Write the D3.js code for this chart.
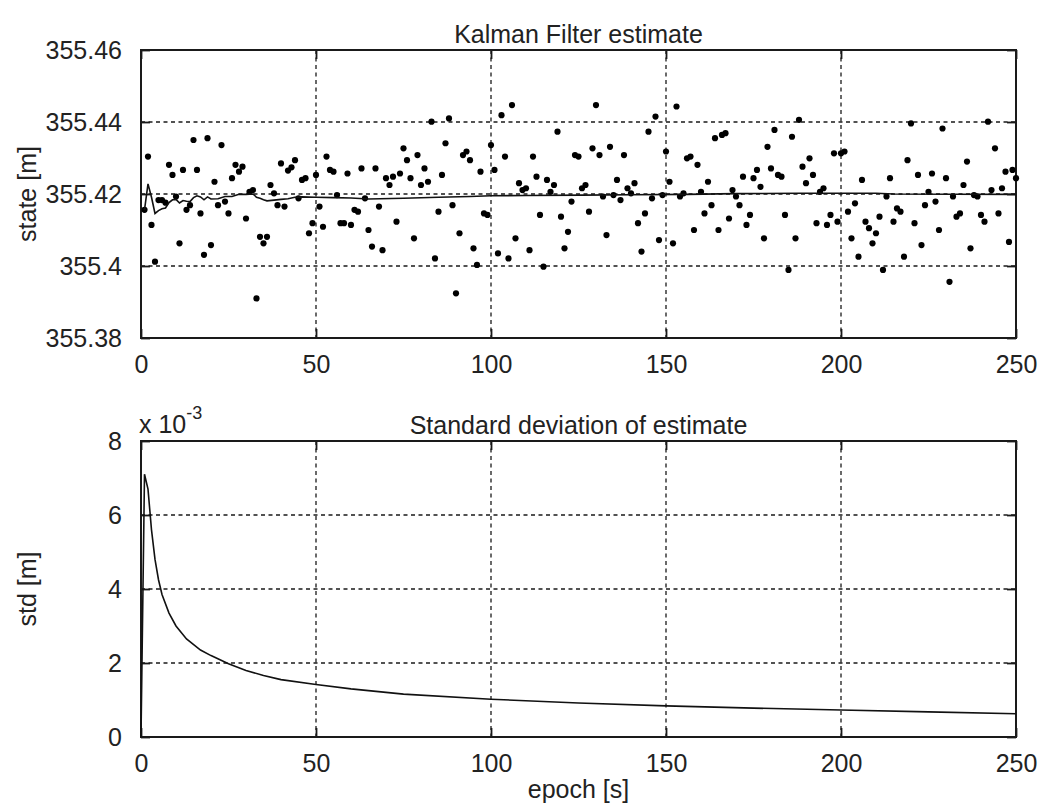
<!DOCTYPE html>
<html lang="en">
<script src="https://d3js.org/d3.v7.min.js"></script>
<style>
    body {margin: 0; background: white;}
    svg {font-family: "Liberation Sans", Arial, sans-serif; font-size: 25px;}
    .frame {fill: none; stroke: #1a1a1a; stroke-width: 2;}
    .grid line {stroke: #1a1a1a; stroke-width: 1.3; stroke-dasharray: 4,3.5;}
    .tick line {stroke: #1a1a1a; stroke-width: 1.8;}
    text {fill: #222;}
</style>
<body>
    <svg width="1041" height="809"></svg>
</body>
<script>
    // observations, epoch 1..250
    var obsValue = [
        355.4156, 355.4304, 355.4114, 355.4012, 355.4183, 355.4183, 355.4176, 355.4281, 355.4253, 355.4193,
        355.4063, 355.4267, 355.4156, 355.4169, 355.4350, 355.4267, 355.4146, 355.4031, 355.4355, 355.4058,
        355.4234, 355.4169, 355.4336, 355.4179, 355.4146, 355.4244, 355.4281, 355.4262, 355.4276, 355.4132,
        355.4206, 355.4211, 355.3910, 355.4081, 355.4063, 355.4081, 355.4225, 355.4202, 355.4169, 355.4285,
        355.4165, 355.4265, 355.4274, 355.4294, 355.4188, 355.4239, 355.4244, 355.4091, 355.4119, 355.4253,
        355.4165, 355.4109, 355.4304, 355.4267, 355.4262, 355.4197, 355.4119, 355.4119, 355.4257, 355.4114,
        355.4156, 355.4151, 355.4271, 355.4188, 355.4100, 355.4054, 355.4271, 355.4165, 355.4044, 355.4244,
        355.4225, 355.4248, 355.4123, 355.4257, 355.4327, 355.4294, 355.4244, 355.4077, 355.4308, 355.4225,
        355.4271, 355.4234, 355.4401, 355.4021, 355.4151, 355.4253, 355.4341, 355.4410, 355.4169, 355.3924,
        355.4091, 355.4308, 355.4318, 355.4294, 355.4049, 355.4003, 355.4262, 355.4146, 355.4142, 355.4336,
        355.4267, 355.4035, 355.4419, 355.4304, 355.4021, 355.4447, 355.4077, 355.4230, 355.4211, 355.4216,
        355.4044, 355.4304, 355.4248, 355.4142, 355.3998, 355.4239, 355.4206, 355.4225, 355.4373, 355.4137,
        355.4049, 355.4095, 355.4179, 355.4308, 355.4304, 355.4216, 355.4225, 355.4151, 355.4327, 355.4447,
        355.4308, 355.4193, 355.4086, 355.4331, 355.4197, 355.4239, 355.4183, 355.4308, 355.4216, 355.4202,
        355.4230, 355.4119, 355.4040, 355.4146, 355.4373, 355.4188, 355.4415, 355.4072, 355.4197, 355.4318,
        355.4234, 355.4063, 355.4443, 355.4193, 355.4202, 355.4299, 355.4304, 355.4100, 355.4281, 355.4206,
        355.4146, 355.4234, 355.4169, 355.4355, 355.4100, 355.4364, 355.4369, 355.4132, 355.4211, 355.4193,
        355.4169, 355.4248, 355.4114, 355.4142, 355.4244, 355.4267, 355.4220, 355.4077, 355.4331, 355.4271,
        355.4378, 355.4253, 355.4248, 355.4142, 355.3989, 355.4359, 355.4077, 355.4406, 355.4276, 355.4230,
        355.4299, 355.4253, 355.4119, 355.4206, 355.4216, 355.4114, 355.4142, 355.4313, 355.4123, 355.4313,
        355.4318, 355.4151, 355.4077, 355.4174, 355.4026, 355.4239, 355.4123, 355.4105, 355.4063, 355.4091,
        355.4137, 355.3989, 355.4193, 355.4244, 355.4123, 355.4160, 355.4151, 355.4026, 355.4294, 355.4396,
        355.4119, 355.4253, 355.4058, 355.4169, 355.4206, 355.4257, 355.4179, 355.4100, 355.4382, 355.4244,
        355.3956, 355.4193, 355.4137, 355.4146, 355.4225, 355.4290, 355.4049, 355.4197, 355.4193, 355.4142,
        355.4123, 355.4401, 355.4211, 355.4327, 355.4146, 355.4216, 355.4262, 355.4067, 355.4267, 355.4244
    ];

    // filter estimate
    var estEpoch = [1,2,3,4,5,6,7,8,9,10,11,12,13,14,15,16,17,18,19,20,22,24,26,28,30,32,33,34,35,36,38,40,42,44,46,50,55,60,65,75,85,94,100,110,126,140,156,170,188,210,215,250];
    var estValue = [355.4156,355.4228,355.4191,355.4146,355.4154,355.4159,355.4161,355.4176,355.4184,355.4185,
        355.4175,355.4182,355.4180,355.4179,355.4190,355.4195,355.4192,355.4184,355.4192,355.4186,
        355.4187,355.4193,355.4193,355.4199,355.4199,355.4200,355.4191,355.4188,355.4184,355.4181,
        355.4183,355.4185,355.4187,355.4191,355.4192,355.4191,355.4190,355.4189,355.4186,355.4188,355.4191,355.4193,
        355.4195,355.4196,355.4197,355.4198,355.4199,355.4201,355.4202,355.4202,355.4200,355.4199];

    // std of estimate (x 10^-3)
    var stdEpoch = [0,1,2,3,4,5,6,8,10,13,17,20,25,30,35,40,50,60,75,100,125,150,175,200,225,250];
    var stdValue = [0,7.1,6.7,5.6,4.8,4.25,3.85,3.35,3.0,2.65,2.35,2.2,1.98,1.8,1.66,1.55,1.42,1.3,1.16,1.02,0.92,0.84,0.78,0.73,0.68,0.63];

    var xTicks = [0,50,100,150,200,250];
    var topTicks = [355.38,355.40,355.42,355.44,355.46];
    var topTickLabels = ["355.38","355.4","355.42","355.44","355.46"];
    var botTicks = [0,2,4,6,8];

    var svg = d3.select("svg");
    var left = 141, right = 1016;

    var x = d3.scaleLinear().domain([0,250]).range([left,right]);

    function panel(top, bottom, yDomain, yTicks, yLabels, title, ylabel){
        var y = d3.scaleLinear().domain(yDomain).range([bottom,top]);
        var g = svg.append("g");

        var grid = g.append("g").attr("class","grid");
        grid.selectAll(".gx").data(xTicks.slice(1,-1)).enter().append("line")
            .attr("x1",function(d){return x(d);}).attr("x2",function(d){return x(d);})
            .attr("y1",top).attr("y2",bottom);
        grid.selectAll(".gy").data(yTicks.slice(1,-1)).enter().append("line")
            .attr("x1",left).attr("x2",right)
            .attr("y1",function(d){return y(d);}).attr("y2",function(d){return y(d);});

        var axB = g.append("g").attr("transform","translate(0,"+bottom+")")
            .call(d3.axisBottom(x).tickValues(xTicks).tickSize(-9).tickPadding(17).tickFormat(d3.format("d")));
        var axT = g.append("g").attr("transform","translate(0,"+top+")")
            .call(d3.axisTop(x).tickValues(xTicks).tickSize(-9).tickFormat(""));
        var axL = g.append("g").attr("transform","translate("+left+",0)")
            .call(d3.axisLeft(y).tickValues(yTicks).tickSize(-9).tickPadding(19)
                .tickFormat(function(d,i){return yLabels[i];}));
        var axR = g.append("g").attr("transform","translate("+right+",0)")
            .call(d3.axisRight(y).tickValues(yTicks).tickSize(-9).tickFormat(""));
        [axB,axT,axL,axR].forEach(function(a){
            a.select(".domain").remove();
            a.attr("font-size",null).attr("font-family",null);
            a.selectAll("text").attr("fill","#222");
        });

        g.append("rect").attr("class","frame")
            .attr("x",left).attr("y",top).attr("width",right-left).attr("height",bottom-top);

        g.append("text").attr("x",(left+right)/2).attr("y",top-7)
            .attr("text-anchor","middle").text(title);
        g.append("text").attr("transform","translate(36,"+((top+bottom)/2)+") rotate(-90)")
            .attr("text-anchor","middle").text(ylabel);
        return {g:g, y:y};
    }

    var p1 = panel(50, 338, [355.38,355.46], topTicks, topTickLabels, "Kalman Filter estimate", "state [m]");
    var p2 = panel(441, 737, [0,8], botTicks, botTicks.map(String), "Standard deviation of estimate", "std [m]");

    // observations
    p1.g.append("g").selectAll("circle").data(obsValue).enter().append("circle")
        .attr("cx",function(d,i){return x(i+1);})
        .attr("cy",function(d){return p1.y(d);})
        .attr("r",3.1).attr("fill","#000");

    var estLine = d3.line().x(function(d){return x(d[0]);}).y(function(d){return p1.y(d[1]);});
    p1.g.append("path").datum(d3.zip(estEpoch,estValue)).attr("d",estLine)
        .attr("fill","none").attr("stroke","#111").attr("stroke-width",1.6);

    var stdLine = d3.line().x(function(d){return x(d[0]);}).y(function(d){return p2.y(d[1]);});
    p2.g.append("path").datum(d3.zip(stdEpoch,stdValue)).attr("d",stdLine)
        .attr("fill","none").attr("stroke","#111").attr("stroke-width",1.6);

    // exponent label
    var ex = svg.append("text").attr("x",left-2).attr("y",433);
    ex.append("tspan").text("x 10");
    ex.append("tspan").attr("dy",-14).attr("font-size","18px").text("-3");

    svg.append("text").attr("x",(left+right)/2).attr("y",798)
        .attr("text-anchor","middle").text("epoch [s]");
</script>
</html>
